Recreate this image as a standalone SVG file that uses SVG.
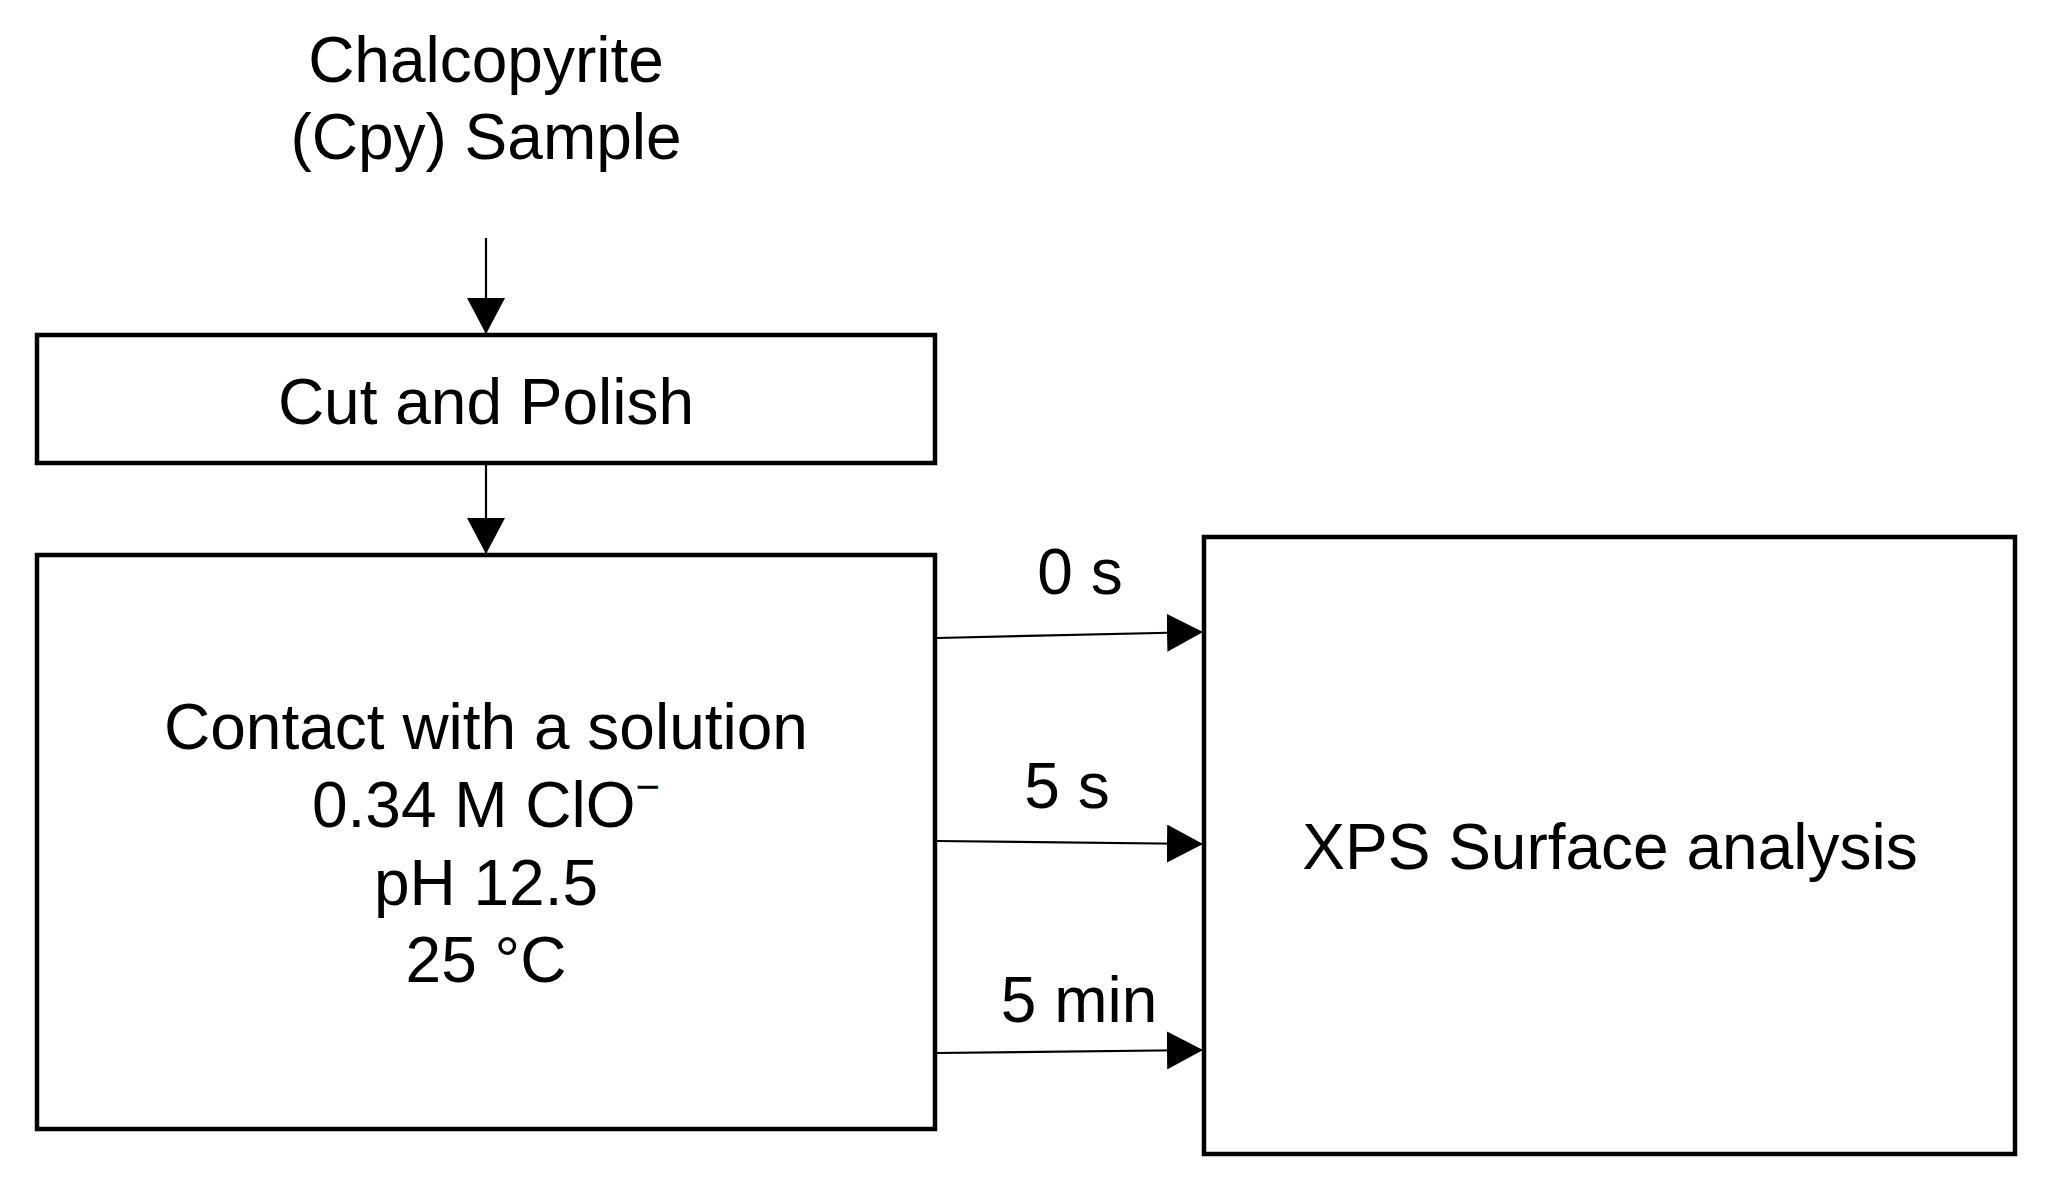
<svg xmlns="http://www.w3.org/2000/svg" width="2046" height="1186" viewBox="0 0 2046 1186">
  <style>
    .box { fill: #ffffff; stroke: #000000; stroke-width: 4.5; }
    .lbl { font-family: "Liberation Sans", Arial, sans-serif; font-size: 64px; fill: #000000; text-anchor: middle; }
    .conn { stroke: #000000; stroke-width: 2.2; fill: none; marker-end: url(#arrow); }
  </style>
  <defs>
    <marker id="arrow" viewBox="0 0 36 38" refX="36" refY="19" markerWidth="36" markerHeight="38" markerUnits="userSpaceOnUse" orient="auto">
      <path d="M0,0 L36,19 L0,38 Z" fill="#000000"/>
    </marker>
  </defs>
  <rect width="2046" height="1186" fill="#ffffff"/>

  <g id="node-sample">
    <text class="lbl" x="486" y="82">Chalcopyrite</text>
    <text class="lbl" x="486" y="159">(Cpy) Sample</text>
  </g>

  <g id="node-cut">
    <rect class="box" x="37" y="335" width="898" height="128"/>
    <text class="lbl" x="486" y="424">Cut and Polish</text>
  </g>

  <g id="node-contact">
    <rect class="box" x="37" y="555" width="898" height="574"/>
    <text class="lbl" x="486" y="749">Contact with a solution</text>
    <text class="lbl" x="486" y="827">0.34 M ClO<tspan font-size="42" dy="-26">−</tspan></text>
    <text class="lbl" x="486" y="905">pH 12.5</text>
    <text class="lbl" x="486" y="982">25 °C</text>
  </g>

  <g id="node-xps">
    <rect class="box" x="1204" y="537" width="811" height="617"/>
    <text class="lbl" x="1610" y="869">XPS Surface analysis</text>
  </g>

  <g id="connectors">
    <line class="conn" x1="486" y1="238" x2="486" y2="334"/>
    <line class="conn" x1="486" y1="464" x2="486" y2="554"/>
    <line class="conn" x1="937" y1="638" x2="1203" y2="632"/>
    <line class="conn" x1="937" y1="841" x2="1203" y2="844"/>
    <line class="conn" x1="937" y1="1053" x2="1203" y2="1050"/>
    <text class="lbl" x="1080" y="594">0 s</text>
    <text class="lbl" x="1067" y="808">5 s</text>
    <text class="lbl" x="1079" y="1022">5 min</text>
  </g>
</svg>
